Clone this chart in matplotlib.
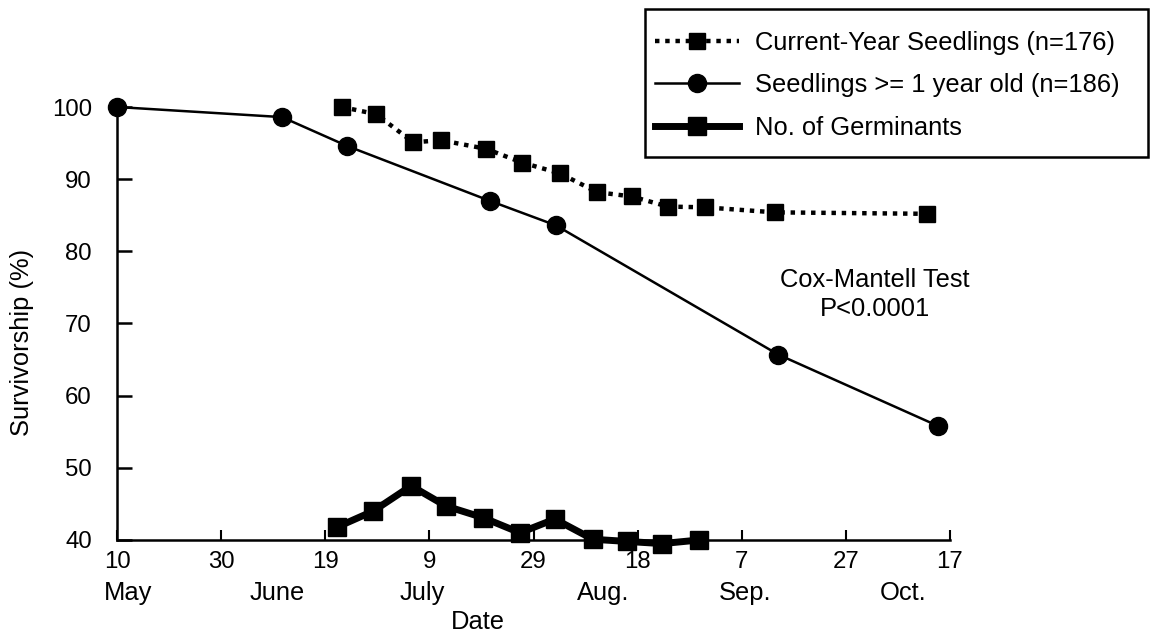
import matplotlib
matplotlib.use("Agg")
import matplotlib.pyplot as plt
from matplotlib.patches import Rectangle

plt.rcParams['font.family'] = ['Liberation Sans', 'DejaVu Sans']

# Days counted from 10 May
older_days = [0, 31.7, 44.2, 71.6, 84.3, 127.0, 157.7]
older_surv = [100, 98.6, 94.6, 87.0, 83.6, 65.7, 55.8]

current_days = [43.2, 49.8, 56.9, 62.2, 70.9, 77.8, 85.1, 92.2, 98.9,
                105.8, 112.9, 126.4, 155.6]
current_surv = [100, 99.0, 95.1, 95.4, 94.2, 92.3, 90.8, 88.2, 87.6,
                86.2, 86.1, 85.4, 85.2]

germ_days = [42.3, 49.2, 56.5, 63.2, 70.3, 77.4, 84.1, 91.4, 98.0, 104.7, 111.8]
germ_vals = [41.8, 44.0, 47.5, 44.7, 43.1, 41.0, 42.9, 40.1, 39.8, 39.5, 40.0]

tick_days = [0, 20, 40, 60, 80, 100, 120, 140, 160]
tick_labels = ['10', '30', '19', '9', '29', '18', '7', '27', '17']
month_days = [2.1, 30.7, 58.6, 93.4, 120.6, 151.0]
month_labels = ['May', 'June', 'July', 'Aug.', 'Sep.', 'Oct.']
y_ticks = [40, 50, 60, 70, 80, 90, 100]

labels = ['Current-Year Seedlings (n=176)',
          'Seedlings >= 1 year old (n=186)',
          'No. of Germinants']

FS = 18.4       # words
FS_NUM = 17.3   # tick numbers

fig = plt.figure(figsize=(11.5, 6.35), dpi=100)
ax = fig.add_axes([117 / 1150, 1 - 540 / 635, 833 / 1150, 433 / 635])

l_cur, = ax.plot(current_days, current_surv, color='black', lw=3.2,
                 ls=(0, (1, 1.3)), dash_capstyle='butt', marker='s', ms=12,
                 clip_on=False, zorder=3)
l_old, = ax.plot(older_days, older_surv, color='black', lw=1.8, marker='o',
                 ms=13, clip_on=False, zorder=3)
l_germ, = ax.plot(germ_days, germ_vals, color='black', lw=5, marker='s',
                  ms=13, clip_on=False, zorder=3)

ax.set_xlim(0, 160)
ax.set_ylim(40, 100)
for side in ('top', 'right'):
    ax.spines[side].set_visible(False)
for side in ('left', 'bottom'):
    ax.spines[side].set_linewidth(1.8)

ax.set_xticks(tick_days)
ax.set_xticklabels(tick_labels)
ax.set_yticks(y_ticks)
ax.tick_params(axis='x', direction='in', length=7, width=1.5, pad=8,
               labelsize=FS_NUM)
ax.tick_params(axis='y', direction='in', length=11, width=1.8, pad=18,
               labelsize=FS_NUM)

xt = ax.get_xaxis_transform()
for d, m in zip(month_days, month_labels):
    ax.text(d, -0.1224, m, transform=xt, ha='center', va='center', fontsize=FS)
ax.text(69.3, -0.189, 'Date', transform=xt, ha='center', va='center',
        fontsize=FS)

fig.text(22 / 1150, 1 - 342 / 635, 'Survivorship (%)', rotation=90,
         ha='center', va='center', fontsize=FS)

ax.text(145.6, 74.0, 'Cox-Mantell Test\nP<0.0001', ha='center', va='center',
        fontsize=FS, linespacing=1.3, multialignment='center')

ax.legend([l_cur, l_old, l_germ], labels, loc='upper left',
          bbox_to_anchor=(655 / 1150, 1 - 31 / 635),
          bbox_transform=fig.transFigure, frameon=False, fontsize=FS,
          handlelength=3.3, handletextpad=0.6, labelspacing=0.72,
          borderpad=0, borderaxespad=0)

fig.add_artist(Rectangle((645 / 1150, 1 - 157 / 635), 503 / 1150, 148 / 635,
                         transform=fig.transFigure, fill=False,
                         edgecolor='black', lw=1.8))

fig.savefig('out.png', dpi=100)
